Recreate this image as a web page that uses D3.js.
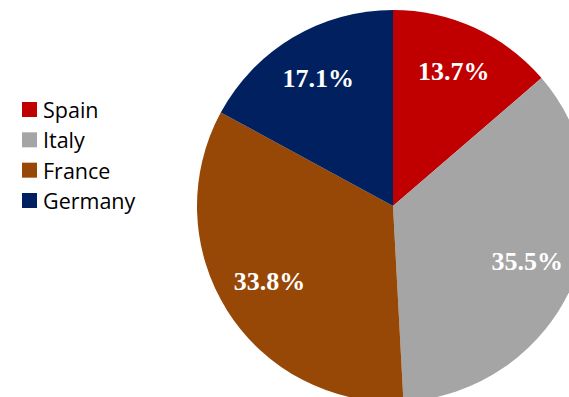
<!DOCTYPE html>
<html><head><meta charset="utf-8">
<script src="https://cdn.jsdelivr.net/npm/d3@7"></script>
<style>html,body{margin:0;padding:0;background:#fff;overflow:hidden}</style>
</head><body>
<svg id="chart" width="569" height="397"></svg>
<script>
const categories = ["Spain", "Italy", "France", "Germany"];
const values = [13.7, 35.5, 33.8, 17.1];
const labels = ["13.7%", "35.5%", "33.8%", "17.1%"];
const colors = ["#C00000", "#A5A5A5", "#974806", "#002060"];

const svg = d3.select("#chart");
const cx = 393, cy = 206, r = 196, lr = 146;
const data = categories.map((c, i) => ({cat: c, value: values[i], label: labels[i], color: colors[i]}));
const pie = d3.pie().sort(null).value(d => d.value);
const arc = d3.arc().innerRadius(0).outerRadius(r);
const labelArc = d3.arc().innerRadius(lr).outerRadius(lr);
const g = svg.append("g").attr("transform", `translate(${cx},${cy})`);
const arcs = pie(data);
g.selectAll("path").data(arcs).join("path")
  .attr("d", arc).attr("fill", d => d.data.color);
g.selectAll("text").data(arcs).join("text")
  .attr("transform", d => { const c = labelArc.centroid(d); return `translate(${c[0]},${c[1] - 2})`; })
  .attr("text-anchor", "middle").attr("dominant-baseline", "central")
  .attr("font-family", "'Liberation Serif', 'DejaVu Serif', serif")
  .attr("font-weight", "bold").attr("font-size", 26)
  .attr("fill", "#fff").text(d => d.data.label);

const leg = svg.append("g");
const ly = d3.scalePoint().domain(categories).range([109.5, 200.5]);
const items = leg.selectAll("g").data(data).join("g")
  .attr("transform", d => `translate(22,${ly(d.cat)})`);
items.append("rect").attr("x", 0).attr("y", -7.5).attr("width", 15).attr("height", 15)
  .attr("fill", d => d.color);
items.append("text").attr("x", 21).attr("y", 0).attr("dominant-baseline", "central")
  .attr("font-family", "'Open Sans', 'Noto Sans', sans-serif").attr("font-size", 21.5)
  .attr("fill", "#000").text(d => d.cat);
</script>
</body></html>
